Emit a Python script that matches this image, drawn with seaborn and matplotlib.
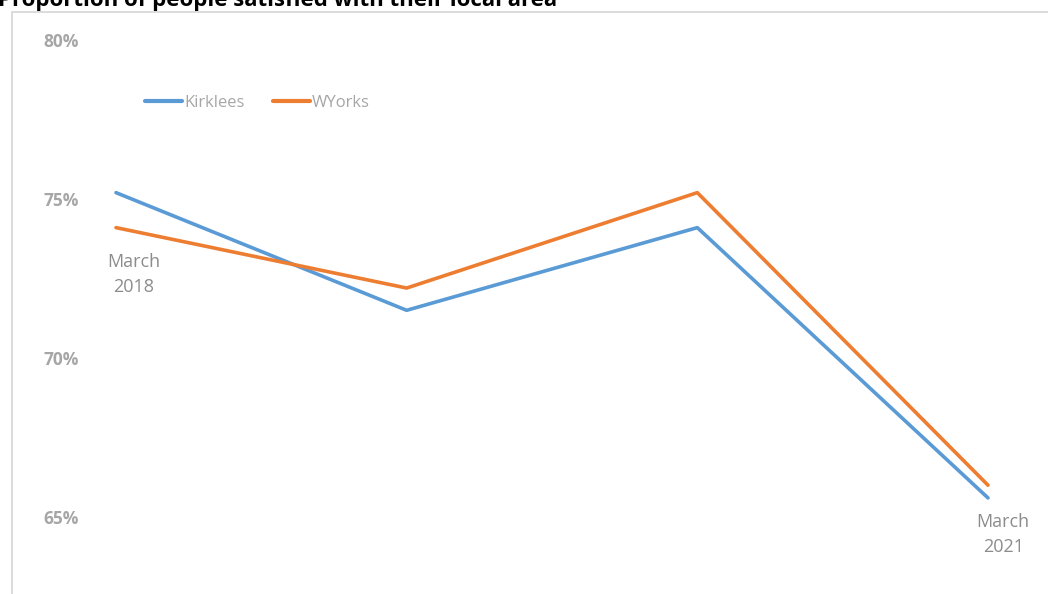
import matplotlib
matplotlib.use("Agg")
import matplotlib.pyplot as plt
import seaborn as sns
import pandas as pd
from matplotlib.patches import Rectangle

periods = ["March\n2018", "", "", "March\n2021"]
kirklees = [75.2, 71.5, 74.1, 65.6]
wyorks = [74.1, 72.2, 75.2, 66.0]
y_ticks = [65, 70, 75, 80]
y_tick_labels = ["65%", "70%", "75%", "80%"]
title = "Proportion of people satisfied with their local area"

rows = []
for i, p in enumerate(periods):
    rows.append({"pos": i, "value": kirklees[i], "series": "Kirklees"})
for i, p in enumerate(periods):
    rows.append({"pos": i, "value": wyorks[i], "series": "WYorks"})
df = pd.DataFrame(rows)

sns.set_theme(style="white")
plt.rcParams['font.family'] = ['Open Sans', 'DejaVu Sans']

W, H = 1048, 594
fig = plt.figure(figsize=(W / 100, H / 100), dpi=100)
ax = fig.add_axes([80 / W, 0, (W - 80) / W, 1])

sns.lineplot(data=df, x="pos", y="value", hue="series",
             palette={"Kirklees": "#5B9BD5", "WYorks": "#ED7D31"},
             linewidth=2.6, ax=ax, legend=True)

# scales
px_per_unit = (988 - 116) / 3
ax.set_xlim(-36 / px_per_unit, 3 + 60 / px_per_unit)
px_per_pct = (517 - 40) / 15
ax.set_ylim(80 - (594 - 40) / px_per_pct, 80 + 40 / px_per_pct)

for s in ax.spines.values():
    s.set_visible(False)
ax.set_xticks([])
ax.set_yticks(y_ticks)
ax.set_yticklabels(y_tick_labels)
ax.tick_params(axis="y", length=0, pad=1, labelsize=12.5, labelcolor="#A6A6A6")
for lab in ax.get_yticklabels():
    lab.set_fontweight("bold")
ax.set_xlabel("")
ax.set_ylabel("")

# category labels (pixel offsets below the lower point)
label_offsets = {0: (13, -18), 3: (11, -11)}
for i, p in enumerate(periods):
    if p:
        ymin = min(kirklees[i], wyorks[i])
        dx, dy = label_offsets[i]
        ax.annotate(p, xy=(i, ymin), xytext=(dx, dy), textcoords="offset points",
                    ha="center", va="top", fontsize=13, color="#8C8C8C",
                    linespacing=1.5)

leg = ax.legend(loc="center left", bbox_to_anchor=((145 - 80) / (W - 80), 1 - 103 / H),
                ncol=2, frameon=False, handlelength=2.2, handletextpad=0.15,
                columnspacing=1.7, fontsize=12, borderaxespad=0, borderpad=0)
for t in leg.get_texts():
    t.set_color("#A6A6A6")
for h in leg.get_lines():
    h.set_linewidth(3)

# border box
fig.patches.append(Rectangle((12 / W, -0.1), 1.2, 1.1 - 12 / H, transform=fig.transFigure,
                             fill=False, edgecolor="#D9D9D9", linewidth=1.3, zorder=0))

fig.text(-2 / W, 1 - 6 / H, title, ha="left", va="baseline", fontsize=16,
         fontweight="bold", color="black")

fig.savefig("out.png", dpi=100)
